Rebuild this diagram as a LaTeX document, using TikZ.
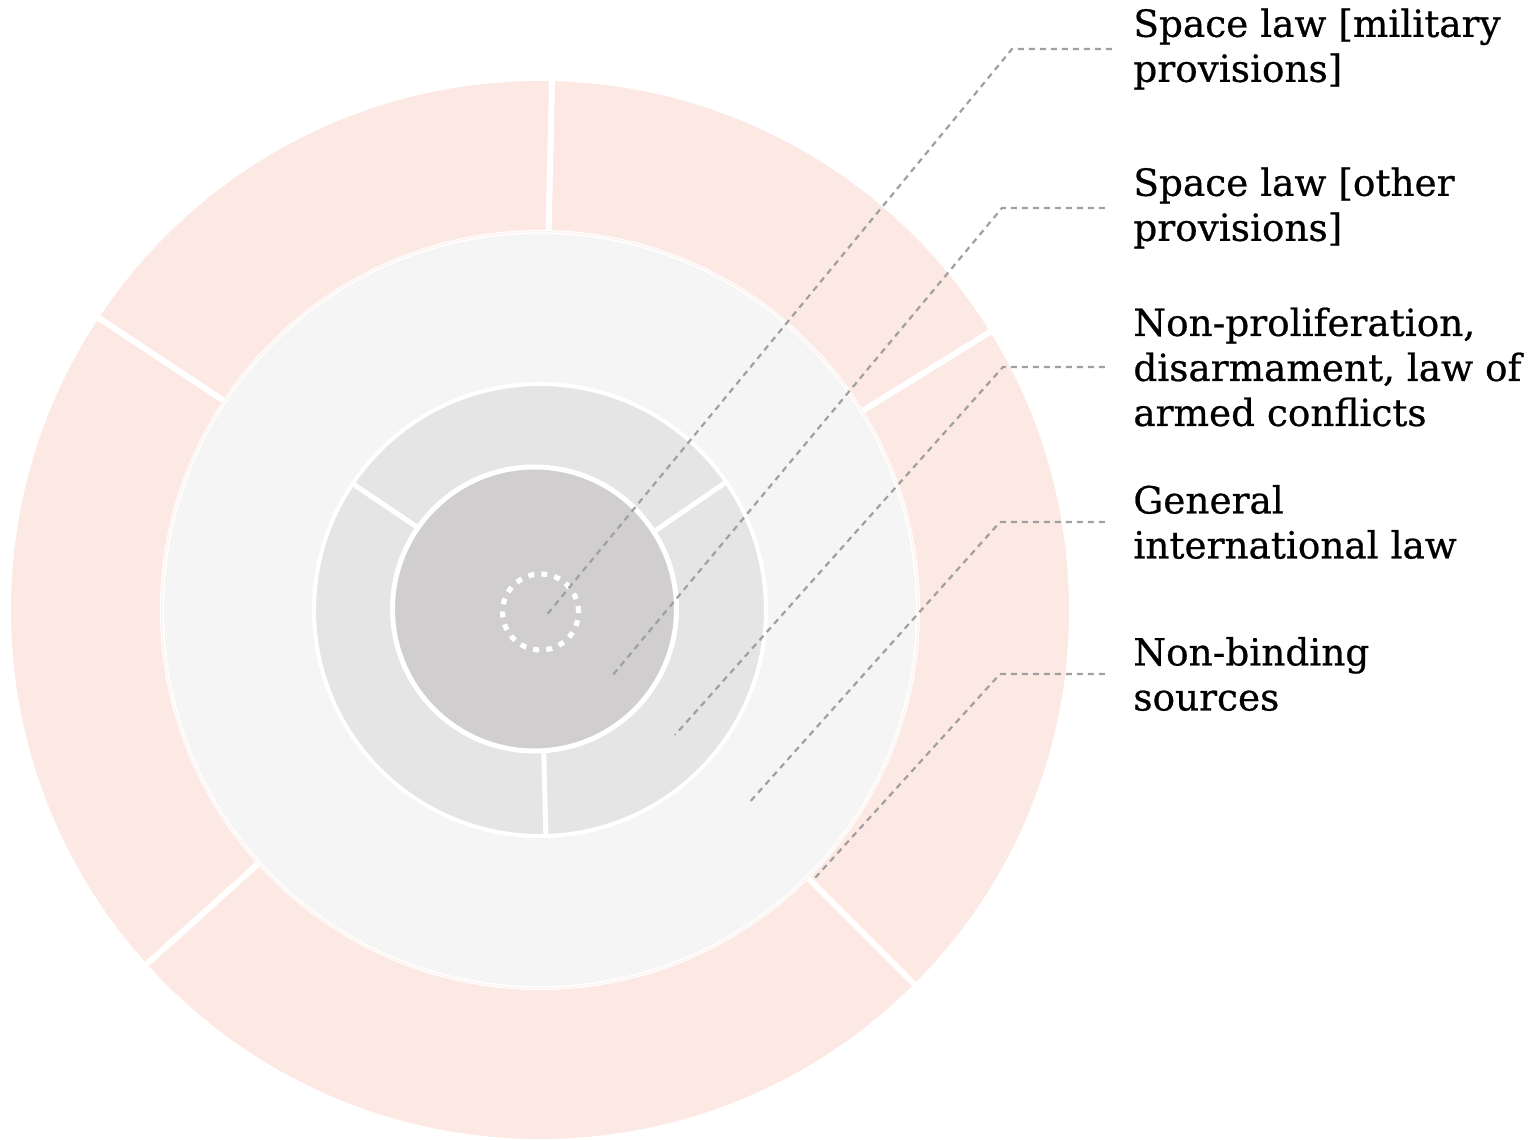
\documentclass[tikz,border=0pt]{standalone}
\usepackage{fontspec}
\setmainfont[FakeBold=0.6]{DejaVu Serif}
\usepackage{xcolor}
\definecolor{ringpink}{RGB}{252, 233, 228}
\definecolor{ringlight}{RGB}{245, 245, 245}
\definecolor{ringmid}{RGB}{229, 229, 229}
\definecolor{ringcore}{RGB}{208, 206, 207}
\definecolor{leadgray}{RGB}{160, 160, 160}
\usepackage{tikz}
\usetikzlibrary{positioning}

\begin{document}
\begin{tikzpicture}[
        x=0.5pt, y=0.5pt,
        sepline/.style={
            draw=white,
            line width=3pt
        },
        midsep/.style={
            draw=white,
            line width=2.5pt
        },
        leader/.style={
            draw=leadgray,
            line width=1.1pt,
            dash pattern=on 3pt off 2.5pt
        },
        label/.style={
            anchor=west,
            inner sep=0pt,
            align=left,
            font=\fontsize{18.7}{22.5}\selectfont
        }
    ]
        \useasboundingbox (-540,-530) rectangle (999,610);
        \coordinate (c) at (0,0);

        % Outer ring
        \fill[ringpink] (c) circle[radius=529];
        \foreach \a in {88.7, 146.5, 222, 315, 31.7}
            \draw[sepline] (c) ++(\a:370) -- ++(\a:170);
        \fill[white] (c) circle[radius=380];
        \draw[ringpink!60, line width=0.6pt] (c) circle[radius=378.3];
        \fill[ringlight] (c) circle[radius=376];

        % Middle ring
        \fill[ringmid, draw=white, line width=2pt] (c) circle[radius=226];
        \foreach \a in {146, 34.5, 271.5}
            \draw[midsep] (c) ++(\a:130) -- ++(\a:95);

        % Core
        \fill[ringcore, draw=white, line width=2.5pt] (-5.5,1) circle[radius=142];
        \draw[white, line width=2.6pt, dash pattern=on 3pt off 3.6pt] (0.5,-2) circle[radius=38];

        % Labels
        \node[label] (lab1) at (593,561) {Space law [military\\provisions]};
        \node[label] (lab2) at (593,402) {Space law [other\\provisions]};
        \node[label] (lab3) at (593,243) {Non-proliferation,\\disarmament, law of\\armed conflicts};
        \node[label] (lab4) at (593,88) {General\\international law};
        \node[label] (lab5) at (593,-64) {Non-binding\\sources};

        % Leaders
        \coordinate (k1) at (472,561);  \coordinate (t1) at (5,-7);
        \coordinate (k2) at (462,402);  \coordinate (t2) at (72,-66);
        \coordinate (k3) at (463,243);  \coordinate (t3) at (135,-125);
        \coordinate (k4) at (460,88);   \coordinate (t4) at (208,-194);
        \coordinate (k5) at (460,-64);  \coordinate (t5) at (275,-268);
        \draw[leader] ([xshift=-10.5pt]lab1.west) -- (k1) -- (t1);
        \draw[leader] ([xshift=-14pt]lab2.west) -- (k2) -- (t2);
        \draw[leader] ([xshift=-14pt]lab3.west) -- (k3) -- (t3);
        \draw[leader] ([xshift=-14pt]lab4.west) -- (k4) -- (t4);
        \draw[leader] ([xshift=-14pt]lab5.west) -- (k5) -- (t5);
    \end{tikzpicture}
\end{document}
